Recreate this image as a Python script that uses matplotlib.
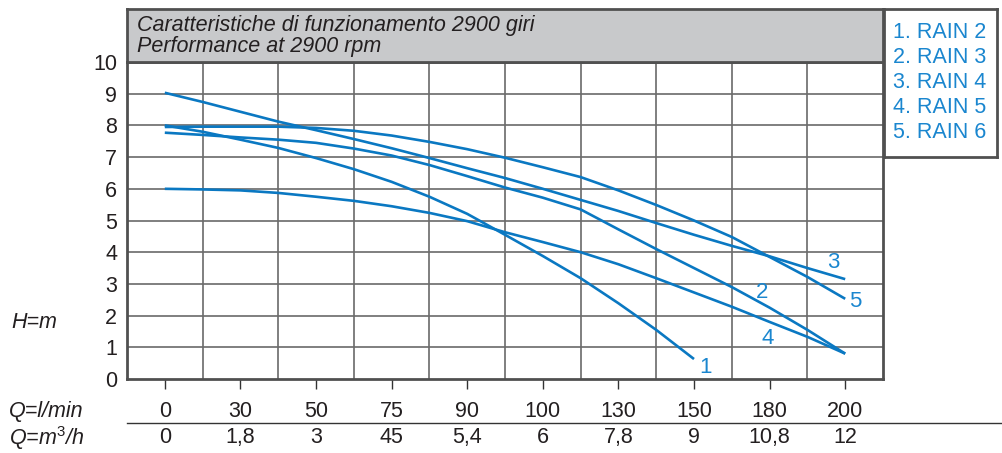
import matplotlib
matplotlib.use('Agg')
import matplotlib.pyplot as plt
from matplotlib.lines import Line2D

plt.rcParams['font.family'] = ['Liberation Sans', 'DejaVu Sans']
plt.rcParams['mathtext.fontset'] = 'custom'
plt.rcParams['mathtext.it'] = 'Liberation Sans:italic'
plt.rcParams['mathtext.rm'] = 'Liberation Sans'

# flow rate labels (equally spaced columns)
q_lmin = ['0', '30', '50', '75', '90', '100', '130', '150', '180', '200']
q_m3h = ['0', '1,8', '3', '45', '5,4', '6', '7,8', '9', '10,8', '12']

# curve readings at every half column (ticks and grid lines)
pos = [0, 0.5, 1, 1.5, 2, 2.5, 3, 3.5, 4, 4.5, 5, 5.5, 6, 6.5, 7, 7.5, 8, 8.5, 9]
h_rain2 = [8.0, 7.8, 7.55, 7.29, 6.97, 6.62, 6.22, 5.75, 5.21, 4.55, 3.88, 3.18, 2.39, 1.55, 0.63]
h_rain3 = [7.77, 7.7, 7.62, 7.55, 7.45, 7.27, 7.05, 6.75, 6.4, 6.04, 5.72, 5.35, 4.72, 4.1, 3.5, 2.9, 2.25, 1.55, 0.8]
h_rain4 = [9.03, 8.74, 8.43, 8.12, 7.85, 7.57, 7.28, 6.97, 6.65, 6.34, 6.0, 5.65, 5.3, 4.92, 4.55, 4.2, 3.87, 3.5, 3.15]
h_rain5 = [6.0, 5.98, 5.95, 5.87, 5.75, 5.62, 5.45, 5.24, 4.98, 4.63, 4.32, 4.0, 3.62, 3.18, 2.73, 2.28, 1.8, 1.33, 0.8]
h_rain6 = [7.95, 7.96, 7.96, 7.96, 7.92, 7.83, 7.68, 7.48, 7.25, 6.98, 6.68, 6.37, 5.95, 5.49, 5.0, 4.48, 3.85, 3.22, 2.53]

legend_labels = ['1. RAIN 2', '2. RAIN 3', '3. RAIN 4', '4. RAIN 5', '5. RAIN 6']
curve_tags = ['1', '2', '3', '4', '5']
tag_xy = [(7.15, 0.35), (7.9, 2.74), (8.84, 3.66), (7.98, 1.29), (9.13, 2.43)]

line_col = '#0a78c2'
text_blue = '#1a86cf'
frame_col = '#505050'
grid_col = '#6a6a6a'
ink = '#231f20'

W, H = 1002, 453
fig = plt.figure(figsize=(W / 100, H / 100), dpi=100)

# main plot area
ax = fig.add_axes([127 / W, 1 - 379 / H, 756 / W, 317 / H])
ax.set_xlim(-0.5, 9.5)
ax.set_ylim(0, 10)

for gx in [i + 0.5 for i in range(9)]:
    ax.axvline(gx, color=grid_col, lw=1.2, zorder=1)
for gy in range(1, 10):
    ax.axhline(gy, color=grid_col, lw=1.2, zorder=1)

curves = [h_rain2, h_rain3, h_rain4, h_rain5, h_rain6]
for h in curves:
    ax.plot(pos[:len(h)], h, color=line_col, lw=1.9, zorder=3, solid_capstyle='butt')

for tag, (tx, ty) in zip(curve_tags, tag_xy):
    ax.text(tx, ty, tag, color=text_blue, fontsize=16, ha='center', va='center')

for s in ax.spines.values():
    s.set_color(frame_col)
    s.set_linewidth(2)

ax.set_yticks(range(0, 11))
ax.set_yticklabels([str(v) for v in range(0, 11)], fontsize=15.5, color=ink)
ax.tick_params(axis='y', length=0, pad=7)

ax.set_xticks(range(len(q_lmin)))
ax.set_xticklabels(q_lmin, fontsize=15.5, color=ink)
ax.tick_params(axis='x', direction='out', length=7.5, width=1.0, color='#333333', pad=8)

# second row of flow labels
for i, lab in enumerate(q_m3h):
    ax.text(i, -0.186, lab, transform=ax.get_xaxis_transform(), fontsize=15.5,
            color=ink, ha='center', va='center')

# separator line between the two rows
fig.add_artist(Line2D([127 / W, 1.0], [1 - 423 / H, 1 - 423 / H], color='#333333', lw=1.0))

# left labels
fig.text(11 / W, 1 - 323 / H, 'H=m', fontsize=15.5, style='italic', va='center', color=ink)
fig.text(9 / W, 1 - 411 / H, 'Q=l/min', fontsize=15.5, style='italic', va='center', color=ink)
fig.text(9 / W, 1 - 438 / H, 'Q=m$^{3}$/h', fontsize=15.5, style='italic', va='center', color=ink)

# header band
hx = fig.add_axes([127 / W, 1 - 62 / H, 756 / W, 53 / H])
hx.set_facecolor('#c8c9cb')
hx.set_xticks([])
hx.set_yticks([])
for s in hx.spines.values():
    s.set_color(frame_col)
    s.set_linewidth(2)
hx.text(0.013, 0.585, 'Caratteristiche di funzionamento 2900 giri', fontsize=15.5,
        style='italic', color=ink, va='baseline', transform=hx.transAxes)
hx.text(0.013, 0.189, 'Performance at 2900 rpm', fontsize=15.5,
        style='italic', color=ink, va='baseline', transform=hx.transAxes)

# legend box
lx = fig.add_axes([884 / W, 1 - 157 / H, 113 / W, 148 / H])
lx.set_xticks([])
lx.set_yticks([])
for s in lx.spines.values():
    s.set_color(frame_col)
    s.set_linewidth(2)
for k, lab in enumerate(legend_labels):
    lx.text(9 / 113, 1 - (23 + 25.2 * k) / 148, lab, fontsize=15.5, color=text_blue,
            va='center', transform=lx.transAxes)

plt.savefig('out.png', dpi=100)
